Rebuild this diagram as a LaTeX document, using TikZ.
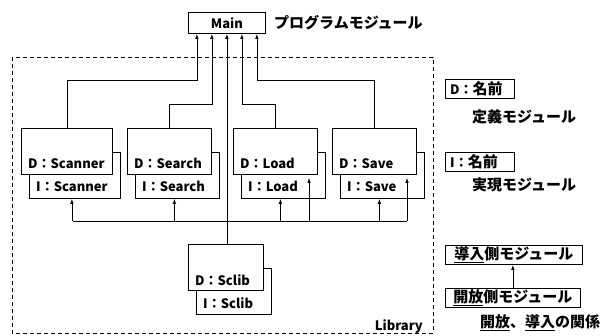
\documentclass[tikz,border=0pt]{standalone}
\usepackage{fontspec}
\setmainfont{Noto Sans CJK JP}
\usetikzlibrary{arrows.meta}

\tikzset{
	wire/.style={line width=0.8pt},
	imp/.style={wire, -{Latex[length=5pt,width=3.5pt]}},
	modbox/.style={draw, fill=white, line width=0.8pt, minimum width=#1, minimum height=46pt, inner sep=0pt, anchor=north west},
	modlab/.style={anchor=west, inner sep=0pt, font=\fontsize{13}{13}\selectfont\bfseries},
	legbox/.style={draw, line width=0.8pt, minimum width=#1, minimum height=19pt, inner sep=0pt, anchor=north west},
	jtext/.style={inner sep=0pt, font=\fontsize{15}{15}\selectfont\bfseries},
}

\begin{document}
\begin{tikzpicture}[x=1pt, y=-1pt]
	\useasboundingbox (0,0) rectangle (610,336);
	% library frame
	\draw[wire, dash pattern=on 4pt off 3pt] (12,57) rectangle (433,333);
	\node[jtext, anchor=east, font=\fontsize{13}{13}\selectfont\bfseries] (lib) at (423,327) {Library};
	% program module
	\node[draw, wire, minimum width=77pt, minimum height=21pt, anchor=north west, inner sep=0pt, font=\fontsize{13}{13}\selectfont\bfseries] (main) at (188,12) {Main};
	\node[jtext, anchor=west] (maint) at (274,23) {プログラムモジュール};
	\foreach \k/\d in {1/-30, 2/-15, 3/0, 4/15, 5/30}
		\coordinate (m\k) at ([xshift=\d pt]main.south);
	\coordinate (upper) at (0,80);
	\coordinate (lower) at (0,104);
	% modules: I box behind, D box in front
	\foreach \n/\x/\y/\w in {Scanner/21/128/91, Search/127/128/84, Load/233/128/84, Save/332/128/84, Sclib/188/244/75} {
		\node[modbox=\w pt] (i\n) at (\x+8,\y+24) {};
		\node[modbox=\w pt] (d\n) at (\x,\y) {};
		\node[modlab] (d\n t) at ([xshift=7pt,yshift=11pt]d\n.south west) {D：\n};
		\node[modlab] (i\n t) at ([xshift=7pt,yshift=12pt]i\n.south west) {I：\n};
	}
	% imports of Main
	\draw[imp] (dScanner.north) |- (m1 |- upper) -- (m1);
	\draw[imp] (dSearch.north) |- (m2 |- lower) -- (m2);
	\draw[imp] (m3 |- dSclib.north) -- (m3);
	\draw[imp] (dLoad.north) |- (m4 |- lower) -- (m4);
	\draw[imp] (dSave.north) |- (m5 |- upper) -- (m5);
	% imports of Sclib
	\coordinate (busl) at (73,221);
	\coordinate (busr) at (407,221);
	\coordinate (busx) at (309,221);
	\draw[wire] (busl) -- (busr);
	\foreach \n in {Scanner, Search, Load, Save}
		\draw[imp] ([xshift=-3pt]i\n.south |- busl) -- ([xshift=-3pt]i\n.south);
	\draw[imp] (busx) -- ([yshift=-3pt]busx |- dLoad.south);
	\draw[imp] (busr) -- ([yshift=-3pt]busr |- dSave.south);
	% legend
	\node[legbox=69pt] (ldef) at (445,79) {};
	\node[modlab] (ldeft) at ([xshift=5pt]ldef.west) {D：\fontsize{15}{15}\selectfont 名前};
	\node[jtext, anchor=west] (ldefn) at (472,117) {定義モジュール};
	\node[legbox=69pt] (limpl) at (445,152) {};
	\node[modlab] (limplt) at ([xshift=5pt]limpl.west) {I：\fontsize{15}{15}\selectfont 名前};
	\node[jtext, anchor=west] (limpln) at (472,185) {実現モジュール};
	\node[legbox=137pt, jtext] (lin) at (445,245) {\underline{導入}側モジュール};
	\node[legbox=135pt, jtext] (lout) at (445,288) {\underline{開放}側モジュール};
	\draw[imp] (lout.north) -- (lout.north |- lin.south);
	\node[jtext] (lrel) at (540,323) {\underline{開放}、\underline{導入}の関係};
\end{tikzpicture}
\end{document}
